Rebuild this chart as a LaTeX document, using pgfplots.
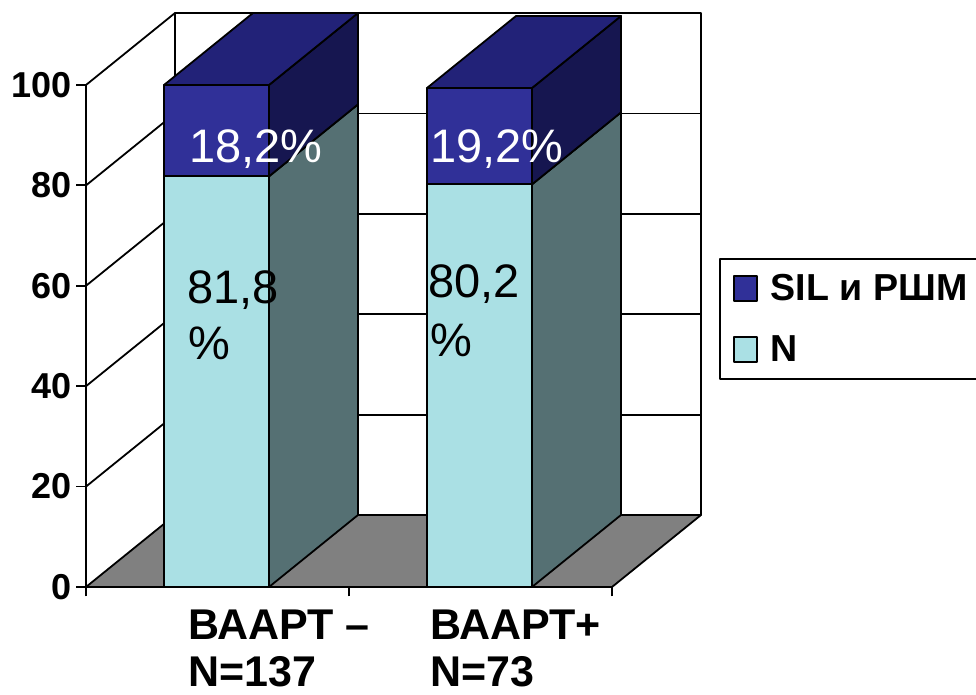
\documentclass[border=0pt]{standalone}
\usepackage{fontspec}
\setmainfont{Liberation Sans}
\usepackage{pgfplots}
\pgfplotsset{compat=1.18}
\usepackage{pgfplotstable}

\definecolor{silfront}{RGB}{48,48,152}
\definecolor{siltop}{RGB}{34,34,120}
\definecolor{silside}{RGB}{22,22,80}
\definecolor{nfront}{RGB}{170,224,228}
\definecolor{nside}{RGB}{85,112,115}
\definecolor{floorgray}{RGB}{128,128,128}

% bar centres and stacked shares (%)
\pgfplotstableread{
x      N     SIL
216.5  81.8  18.2
479.5  80.2  19.2
}\shares

\pgfplotsset{
  chartframe/.style={
    x=0.5pt, y=2.51pt,
    xmin=86, xmax=701, ymin=0, ymax=114.34,
    clip=false,
  },
  edge/.style={draw=black, line width=0.9pt},
}
\tikzset{
  catlabel/.style={anchor=base west, inner sep=0pt, font=\fontsize{21.5}{25}\selectfont\bfseries},
  vallabel/.style={anchor=base west, inner sep=0pt, font=\fontsize{23.5}{28}\selectfont},
}

\begin{document}
\begin{tikzpicture}[line join=round]
% ---------- walls, floor, axis, depth faces of the columns ----------
\begin{axis}[chartframe,
  axis line style={draw=none},
  tick align=outside, xtick pos=bottom, ytick pos=left,
  major tick length=4.75pt,
  tick style={black, line width=0.9pt},
  xtick={86,349,612}, xticklabels={},
  ytick={0,20,40,60,80,100},
  yticklabel style={font=\fontsize{18}{21}\selectfont\bfseries, inner sep=0pt, xshift=-2.5pt},
  /pgf/number format/assume math mode=true,
]
\coordinate (bbsw) at (axis cs:0,-21.51);
\coordinate (bbne) at (axis cs:976,116.93);
% back wall with grid
\addplot[edge, fill=white] coordinates {(175,14.34) (701,14.34) (701,114.34) (175,114.34)} -- cycle;
\addplot[edge] coordinates {(175,34.34) (701,34.34)};
\addplot[edge] coordinates {(175,54.34) (701,54.34)};
\addplot[edge] coordinates {(175,74.34) (701,74.34)};
\addplot[edge] coordinates {(175,94.34) (701,94.34)};
% side wall
\addplot[edge] coordinates {(86,20) (175,34.34)};
\addplot[edge] coordinates {(86,40) (175,54.34)};
\addplot[edge] coordinates {(86,60) (175,74.34)};
\addplot[edge] coordinates {(86,80) (175,94.34)};
\addplot[edge] coordinates {(86,100) (175,114.34)};
% floor
\addplot[edge, fill=floorgray] coordinates {(86,0) (612,0) (701,14.34) (175,14.34)} -- cycle;
% front axis lines
\addplot[edge] coordinates {(86,100) (86,0) (612,0)};
% column 1: right side and top
\addplot[edge, fill=nside] coordinates {(269,0) (358,14.34) (358,96.14) (269,81.8)} -- cycle;
\addplot[edge, fill=silside] coordinates {(269,81.8) (358,96.14) (358,114.34) (269,100)} -- cycle;
\addplot[edge, fill=siltop] coordinates {(164,100) (269,100) (358,114.34) (253,114.34)} -- cycle;
% column 2: right side and top
\addplot[edge, fill=nside] coordinates {(532,0) (621,14.34) (621,94.54) (532,80.2)} -- cycle;
\addplot[edge, fill=silside] coordinates {(532,80.2) (621,94.54) (621,113.74) (532,99.4)} -- cycle;
\addplot[edge, fill=siltop] coordinates {(427,99.4) (532,99.4) (621,113.74) (516,113.74)} -- cycle;
% category names
\node[catlabel] at (axis cs:188,-10.5) {ВААРТ –};
\node[catlabel] at (axis cs:188,-19.9) {N=137};
\node[catlabel] at (axis cs:430,-10.5) {ВААРТ+};
\node[catlabel] at (axis cs:430,-19.9) {N=73};
\end{axis}

% ---------- front faces of the stacked columns ----------
\begin{axis}[chartframe, hide axis,
  ybar stacked, bar width=105,
  reverse legend, legend cell align=left,
  legend style={at={(1.02927,0.5732)}, anchor=north west,
    draw=black, line width=0.9pt,
    font=\fontsize{18.8}{22}\selectfont\bfseries,
    inner xsep=6.5pt, inner ysep=7.5pt,
    row sep=16pt, column sep=6.5pt,
    nodes={inner sep=0pt}},
]
\addplot[fill=nfront, draw=black, line width=0.9pt,
  legend image code/.code={\draw[fill=nfront, draw=black, line width=0.9pt] (0pt,-6.25pt) rectangle (11.5pt,6.25pt);}]
  table[x=x, y=N] {\shares};
\addlegendentry{N}
\addplot[fill=silfront, draw=black, line width=0.9pt,
  legend image code/.code={\draw[fill=silfront, draw=black, line width=0.9pt] (0pt,-6.25pt) rectangle (11.5pt,6.25pt);}]
  table[x=x, y=SIL] {\shares};
\addlegendentry{SIL и РШМ}
\end{axis}

% ---------- value labels on top of the columns ----------
\begin{axis}[chartframe, hide axis]
\node[vallabel, white] at (axis cs:189,84.46) {18,2\%};
\node[vallabel, white] at (axis cs:430,84.46) {19,2\%};
\node[vallabel] at (axis cs:187,56.57) {81,8};
\node[vallabel] at (axis cs:188,45.22) {\%};
\node[vallabel] at (axis cs:428,57.57) {80,2};
\node[vallabel] at (axis cs:430,45.82) {\%};
\end{axis}
\pgfresetboundingbox
\path[use as bounding box] (bbsw) rectangle (bbne);
\end{tikzpicture}
\end{document}
